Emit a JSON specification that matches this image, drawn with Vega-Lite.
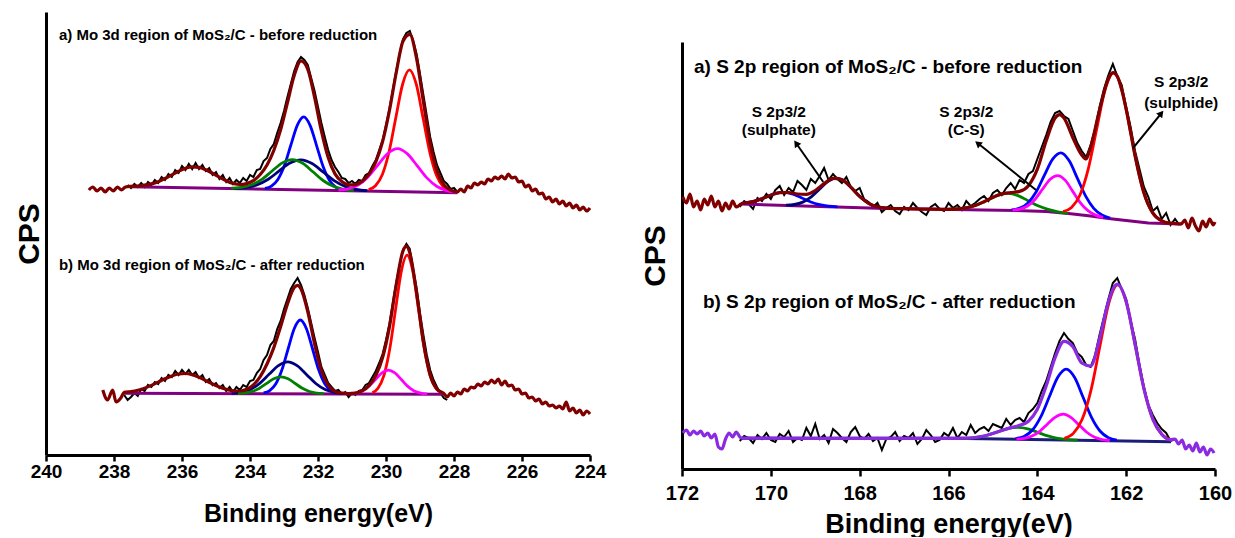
{
"$schema":"https://vega.github.io/schema/vega-lite/v6.json",
"background":"white",
"padding":{"left":14,"top":12,"right":0,"bottom":0},
"spacing":34,
"config":{"view":{"stroke":null},"font":"Liberation Sans",
"axis":{"domainColor":"black","domainWidth":3,"tickColor":"black","tickWidth":2.5,"labelColor":"black","titleColor":"black","labelFont":"Liberation Sans","titleFont":"Liberation Sans","labelFontWeight":"bold","titleFontWeight":"bold","grid":false,"labelFlush":false,"labelOverlap":false}},
"datasets":{
"L_fit":[
{"p":"a","e":238.74,"v":265},{"p":"a","e":238.62,"v":268},{"p":"a","e":238.5,"v":264},{"p":"a","e":238.38,"v":267},{"p":"a","e":238.26,"v":263},{"p":"a","e":238.14,"v":267},{"p":"a","e":238.02,"v":264},{"p":"a","e":237.9,"v":268},{"p":"a","e":237.78,"v":265},{"p":"a","e":237.66,"v":268},
{"p":"a","e":237.5,"v":268.7},{"p":"a","e":237.3,"v":269.0},{"p":"a","e":237.1,"v":269.8},{"p":"a","e":236.9,"v":271.1},{"p":"a","e":236.7,"v":273.3},{"p":"a","e":236.5,"v":276.5},{"p":"a","e":236.3,"v":280.1},{"p":"a","e":236.1,"v":283.7},{"p":"a","e":235.9,"v":286.7},{"p":"a","e":235.7,"v":288.1},{"p":"a","e":235.5,"v":287.6},{"p":"a","e":235.3,"v":285.2},{"p":"a","e":235.1,"v":281.7},{"p":"a","e":234.9,"v":277.8},{"p":"a","e":234.7,"v":274.2},{"p":"a","e":234.5,"v":271.6},{"p":"a","e":234.3,"v":270.5},{"p":"a","e":234.1,"v":271.4},{"p":"a","e":233.9,"v":274.4},{"p":"a","e":233.7,"v":280.5},{"p":"a","e":233.5,"v":290.0},{"p":"a","e":233.3,"v":304.5},{"p":"a","e":233.1,"v":325.2},{"p":"a","e":232.9,"v":352.2},{"p":"a","e":232.7,"v":379.5},{"p":"a","e":232.5,"v":394.1},{"p":"a","e":232.3,"v":385.7},{"p":"a","e":232.1,"v":357.6},{"p":"a","e":231.9,"v":324.0},{"p":"a","e":231.7,"v":297.4},{"p":"a","e":231.5,"v":281.1},{"p":"a","e":231.3,"v":273.4},{"p":"a","e":231.1,"v":270.1},{"p":"a","e":230.9,"v":270.4},{"p":"a","e":230.7,"v":273.7},{"p":"a","e":230.5,"v":280.8},{"p":"a","e":230.3,"v":293.0},{"p":"a","e":230.1,"v":313.3},{"p":"a","e":229.9,"v":344.2},{"p":"a","e":229.7,"v":382.3},{"p":"a","e":229.5,"v":413.7},{"p":"a","e":229.3,"v":420.7},{"p":"a","e":229.1,"v":396.4},{"p":"a","e":228.9,"v":353.2},{"p":"a","e":228.7,"v":311.8},{"p":"a","e":228.5,"v":284.2},{"p":"a","e":228.3,"v":270.4},{"p":"a","e":228.1,"v":264.8},{"p":"a","e":227.9,"v":263.0},
{"p":"a","e":227.8,"v":266},{"p":"a","e":227.7,"v":263},{"p":"a","e":227.6,"v":269},{"p":"a","e":227.5,"v":267},{"p":"a","e":227.4,"v":272},{"p":"a","e":227.3,"v":270},{"p":"a","e":227.2,"v":273},{"p":"a","e":227.1,"v":271},{"p":"a","e":227.0,"v":276},{"p":"a","e":226.9,"v":274},{"p":"a","e":226.8,"v":278},{"p":"a","e":226.7,"v":276},{"p":"a","e":226.6,"v":279},{"p":"a","e":226.5,"v":276},{"p":"a","e":226.4,"v":281},{"p":"a","e":226.3,"v":277},{"p":"a","e":226.2,"v":278},{"p":"a","e":226.1,"v":273},{"p":"a","e":226.0,"v":274},{"p":"a","e":225.9,"v":268},{"p":"a","e":225.8,"v":270},{"p":"a","e":225.7,"v":264},{"p":"a","e":225.6,"v":266},{"p":"a","e":225.5,"v":261},{"p":"a","e":225.4,"v":262},{"p":"a","e":225.3,"v":256},{"p":"a","e":225.2,"v":258},{"p":"a","e":225.1,"v":253},{"p":"a","e":225.0,"v":256},{"p":"a","e":224.9,"v":251},{"p":"a","e":224.8,"v":254},{"p":"a","e":224.7,"v":249},{"p":"a","e":224.6,"v":252},{"p":"a","e":224.5,"v":247},{"p":"a","e":224.4,"v":250},{"p":"a","e":224.3,"v":245},{"p":"a","e":224.2,"v":248},{"p":"a","e":224.1,"v":244},{"p":"a","e":224.0,"v":247},
{"p":"b","e":238.33,"v":65},{"p":"b","e":238.19,"v":55},{"p":"b","e":238.04,"v":65},{"p":"b","e":237.94,"v":53},{"p":"b","e":237.8,"v":57},
{"p":"b","e":237.7,"v":62.6},{"p":"b","e":237.5,"v":63.4},{"p":"b","e":237.3,"v":64.7},{"p":"b","e":237.1,"v":66.8},{"p":"b","e":236.9,"v":69.6},{"p":"b","e":236.7,"v":72.9},{"p":"b","e":236.5,"v":76.3},{"p":"b","e":236.3,"v":79.1},{"p":"b","e":236.1,"v":81.0},{"p":"b","e":235.9,"v":81.5},{"p":"b","e":235.7,"v":80.3},{"p":"b","e":235.5,"v":77.8},{"p":"b","e":235.3,"v":74.4},{"p":"b","e":235.1,"v":71.0},{"p":"b","e":234.9,"v":67.9},{"p":"b","e":234.7,"v":65.7},{"p":"b","e":234.5,"v":64.2},{"p":"b","e":234.3,"v":64.0},{"p":"b","e":234.1,"v":65.7},{"p":"b","e":233.9,"v":70.2},{"p":"b","e":233.7,"v":78.4},{"p":"b","e":233.5,"v":91.0},{"p":"b","e":233.3,"v":107.4},{"p":"b","e":233.1,"v":128.2},{"p":"b","e":232.9,"v":150.8},{"p":"b","e":232.7,"v":167.4},{"p":"b","e":232.6,"v":169.6},{"p":"b","e":232.5,"v":166.1},{"p":"b","e":232.3,"v":143.2},{"p":"b","e":232.1,"v":111.0},{"p":"b","e":231.9,"v":84.5},{"p":"b","e":231.7,"v":69.7},{"p":"b","e":231.5,"v":63.7},{"p":"b","e":231.3,"v":61.8},{"p":"b","e":231.1,"v":61.4},{"p":"b","e":230.9,"v":61.9},{"p":"b","e":230.7,"v":64.2},{"p":"b","e":230.5,"v":69.4},{"p":"b","e":230.3,"v":79.4},{"p":"b","e":230.1,"v":97.4},{"p":"b","e":229.9,"v":127.9},{"p":"b","e":229.7,"v":170.2},{"p":"b","e":229.5,"v":204.1},{"p":"b","e":229.4,"v":208.6},{"p":"b","e":229.3,"v":202.1},{"p":"b","e":229.1,"v":162.0},{"p":"b","e":228.9,"v":112.7},{"p":"b","e":228.7,"v":79.7},{"p":"b","e":228.5,"v":65.7},{"p":"b","e":228.3,"v":61.6},
{"p":"b","e":228.2,"v":58},{"p":"b","e":228.1,"v":62},{"p":"b","e":228.0,"v":59},{"p":"b","e":227.9,"v":63},{"p":"b","e":227.8,"v":61},{"p":"b","e":227.7,"v":66},{"p":"b","e":227.6,"v":64},{"p":"b","e":227.5,"v":68},{"p":"b","e":227.4,"v":67},{"p":"b","e":227.3,"v":71},{"p":"b","e":227.2,"v":69},{"p":"b","e":227.1,"v":73},{"p":"b","e":227.0,"v":71},{"p":"b","e":226.9,"v":75},{"p":"b","e":226.8,"v":72},{"p":"b","e":226.7,"v":76},{"p":"b","e":226.6,"v":70},{"p":"b","e":226.5,"v":74},{"p":"b","e":226.4,"v":69},{"p":"b","e":226.3,"v":70},{"p":"b","e":226.2,"v":65},{"p":"b","e":226.1,"v":66},{"p":"b","e":226.0,"v":61},{"p":"b","e":225.9,"v":62},{"p":"b","e":225.8,"v":57},{"p":"b","e":225.7,"v":58},{"p":"b","e":225.6,"v":54},{"p":"b","e":225.5,"v":56},{"p":"b","e":225.4,"v":51},{"p":"b","e":225.3,"v":53},{"p":"b","e":225.2,"v":49},{"p":"b","e":225.1,"v":50},{"p":"b","e":225.0,"v":47},{"p":"b","e":224.9,"v":49},{"p":"b","e":224.8,"v":46},{"p":"b","e":224.7,"v":53},{"p":"b","e":224.6,"v":44},{"p":"b","e":224.5,"v":47},{"p":"b","e":224.4,"v":42},{"p":"b","e":224.3,"v":45},{"p":"b","e":224.2,"v":40},{"p":"b","e":224.1,"v":44},{"p":"b","e":224.0,"v":41}
],
"L_raw":[
{"p":"a","e":237.6,"v":270},{"p":"a","e":237.5,"v":267},{"p":"a","e":237.4,"v":271},{"p":"a","e":237.3,"v":268},{"p":"a","e":237.2,"v":272},{"p":"a","e":237.1,"v":268},{"p":"a","e":237.0,"v":273},{"p":"a","e":236.9,"v":270},{"p":"a","e":236.8,"v":275},{"p":"a","e":236.7,"v":272},{"p":"a","e":236.6,"v":278},{"p":"a","e":236.5,"v":275},{"p":"a","e":236.4,"v":281},{"p":"a","e":236.3,"v":278},{"p":"a","e":236.2,"v":285},{"p":"a","e":236.1,"v":282},{"p":"a","e":236.0,"v":289},{"p":"a","e":235.9,"v":285},{"p":"a","e":235.8,"v":291},{"p":"a","e":235.7,"v":286},{"p":"a","e":235.6,"v":292},{"p":"a","e":235.5,"v":286},{"p":"a","e":235.4,"v":290},{"p":"a","e":235.3,"v":284},{"p":"a","e":235.2,"v":287},{"p":"a","e":235.1,"v":280},{"p":"a","e":235.0,"v":283},{"p":"a","e":234.9,"v":276},{"p":"a","e":234.8,"v":280},{"p":"a","e":234.7,"v":273},{"p":"a","e":234.6,"v":277},{"p":"a","e":234.5,"v":271},{"p":"a","e":234.4,"v":275},{"p":"a","e":234.3,"v":272},{"p":"a","e":234.2,"v":277},{"p":"a","e":234.1,"v":274},{"p":"a","e":234.0,"v":280},{"p":"a","e":233.9,"v":278},{"p":"a","e":233.8,"v":285},{"p":"a","e":233.7,"v":286},{"p":"a","e":233.6,"v":294},{"p":"a","e":233.5,"v":297},{"p":"a","e":233.4,"v":306},{"p":"a","e":233.3,"v":311},{"p":"a","e":233.2,"v":322},{"p":"a","e":233.1,"v":332},{"p":"a","e":233.0,"v":344},{"p":"a","e":232.9,"v":358},{"p":"a","e":232.8,"v":371},{"p":"a","e":232.7,"v":384},{"p":"a","e":232.6,"v":393},{"p":"a","e":232.5,"v":398},{"p":"a","e":232.4,"v":395},{"p":"a","e":232.3,"v":390},{"p":"a","e":232.2,"v":377},{"p":"a","e":232.1,"v":364},{"p":"a","e":232.0,"v":348},{"p":"a","e":231.9,"v":332},{"p":"a","e":231.8,"v":318},{"p":"a","e":231.7,"v":305},{"p":"a","e":231.6,"v":295},{"p":"a","e":231.5,"v":288},{"p":"a","e":231.4,"v":283},{"p":"a","e":231.3,"v":277},{"p":"a","e":231.2,"v":276},{"p":"a","e":231.1,"v":272},{"p":"a","e":231.0,"v":274},{"p":"a","e":230.9,"v":271},{"p":"a","e":230.8,"v":275},{"p":"a","e":230.7,"v":274},{"p":"a","e":230.6,"v":280},{"p":"a","e":230.5,"v":282},{"p":"a","e":230.4,"v":289},{"p":"a","e":230.3,"v":295},{"p":"a","e":230.2,"v":305},{"p":"a","e":230.1,"v":315},{"p":"a","e":230.0,"v":330},{"p":"a","e":229.9,"v":346},{"p":"a","e":229.8,"v":365},{"p":"a","e":229.7,"v":384},{"p":"a","e":229.6,"v":401},{"p":"a","e":229.5,"v":416},{"p":"a","e":229.4,"v":422},{"p":"a","e":229.3,"v":424},{"p":"a","e":229.2,"v":414},{"p":"a","e":229.1,"v":401},{"p":"a","e":229.0,"v":381},{"p":"a","e":228.9,"v":360},{"p":"a","e":228.8,"v":339},{"p":"a","e":228.7,"v":318},{"p":"a","e":228.6,"v":303},{"p":"a","e":228.5,"v":290},{"p":"a","e":228.4,"v":282},{"p":"a","e":228.3,"v":274},{"p":"a","e":228.2,"v":271},{"p":"a","e":228.1,"v":266},{"p":"a","e":228.0,"v":267},{"p":"a","e":227.9,"v":263},
{"p":"b","e":237.7,"v":60},{"p":"b","e":237.6,"v":55},{"p":"b","e":237.5,"v":58},{"p":"b","e":237.4,"v":62},{"p":"b","e":237.3,"v":59},{"p":"b","e":237.2,"v":66},{"p":"b","e":237.1,"v":64},{"p":"b","e":237.0,"v":70},{"p":"b","e":236.9,"v":68},{"p":"b","e":236.8,"v":73},{"p":"b","e":236.7,"v":71},{"p":"b","e":236.6,"v":77},{"p":"b","e":236.5,"v":74},{"p":"b","e":236.4,"v":80},{"p":"b","e":236.3,"v":78},{"p":"b","e":236.2,"v":84},{"p":"b","e":236.1,"v":80},{"p":"b","e":236.0,"v":85},{"p":"b","e":235.9,"v":81},{"p":"b","e":235.8,"v":85},{"p":"b","e":235.7,"v":80},{"p":"b","e":235.6,"v":83},{"p":"b","e":235.5,"v":77},{"p":"b","e":235.4,"v":80},{"p":"b","e":235.3,"v":73},{"p":"b","e":235.2,"v":76},{"p":"b","e":235.1,"v":70},{"p":"b","e":235.0,"v":72},{"p":"b","e":234.9,"v":67},{"p":"b","e":234.8,"v":70},{"p":"b","e":234.7,"v":64},{"p":"b","e":234.6,"v":68},{"p":"b","e":234.5,"v":63},{"p":"b","e":234.4,"v":68},{"p":"b","e":234.3,"v":65},{"p":"b","e":234.2,"v":70},{"p":"b","e":234.1,"v":68},{"p":"b","e":234.0,"v":74},{"p":"b","e":233.9,"v":75},{"p":"b","e":233.8,"v":82},{"p":"b","e":233.7,"v":86},{"p":"b","e":233.6,"v":95},{"p":"b","e":233.5,"v":100},{"p":"b","e":233.4,"v":110},{"p":"b","e":233.3,"v":114},{"p":"b","e":233.2,"v":126},{"p":"b","e":233.1,"v":134},{"p":"b","e":233.0,"v":146},{"p":"b","e":232.9,"v":156},{"p":"b","e":232.8,"v":166},{"p":"b","e":232.7,"v":172},{"p":"b","e":232.6,"v":177},{"p":"b","e":232.5,"v":170},{"p":"b","e":232.4,"v":160},{"p":"b","e":232.3,"v":147},{"p":"b","e":232.2,"v":132},{"p":"b","e":232.1,"v":117},{"p":"b","e":232.0,"v":103},{"p":"b","e":231.9,"v":88},{"p":"b","e":231.8,"v":80},{"p":"b","e":231.7,"v":72},{"p":"b","e":231.6,"v":68},{"p":"b","e":231.5,"v":64},{"p":"b","e":231.4,"v":65},{"p":"b","e":231.3,"v":61},{"p":"b","e":231.2,"v":63},{"p":"b","e":231.1,"v":58},{"p":"b","e":231.0,"v":62},{"p":"b","e":230.9,"v":60},{"p":"b","e":230.8,"v":64},{"p":"b","e":230.7,"v":65},{"p":"b","e":230.6,"v":70},{"p":"b","e":230.5,"v":72},{"p":"b","e":230.4,"v":78},{"p":"b","e":230.3,"v":84},{"p":"b","e":230.2,"v":92},{"p":"b","e":230.1,"v":101},{"p":"b","e":230.0,"v":115},{"p":"b","e":229.9,"v":131},{"p":"b","e":229.8,"v":152},{"p":"b","e":229.7,"v":172},{"p":"b","e":229.6,"v":190},{"p":"b","e":229.5,"v":205},{"p":"b","e":229.4,"v":211},{"p":"b","e":229.3,"v":206},{"p":"b","e":229.2,"v":186},{"p":"b","e":229.1,"v":167},{"p":"b","e":229.0,"v":142},{"p":"b","e":228.9,"v":120},{"p":"b","e":228.8,"v":100},{"p":"b","e":228.7,"v":85},{"p":"b","e":228.6,"v":75},{"p":"b","e":228.5,"v":68},{"p":"b","e":228.4,"v":62},{"p":"b","e":228.3,"v":57},{"p":"b","e":228.2,"v":55}
],
"L_base":[{"p":"a","e":237.5,"v":268.3},{"p":"a","e":227.9,"v":262.3},{"p":"b","e":237.7,"v":61.7},{"p":"b","e":228.3,"v":60.7}],
"L_comp":[
{"p":"a","s":"A","e":231.28,"v":265.2},{"p":"a","s":"A","e":231.47,"v":267.7},{"p":"a","s":"A","e":231.66,"v":274.5},{"p":"a","s":"A","e":231.85,"v":288.5},{"p":"a","s":"A","e":232.04,"v":309.2},{"p":"a","s":"A","e":232.23,"v":329.4},{"p":"a","s":"A","e":232.42,"v":338.1},{"p":"a","s":"A","e":232.61,"v":329.6},{"p":"a","s":"A","e":232.8,"v":309.7},{"p":"a","s":"A","e":232.99,"v":289.2},{"p":"a","s":"A","e":233.18,"v":275.5},{"p":"a","s":"A","e":233.37,"v":268.9},{"p":"a","s":"A","e":233.56,"v":266.6},
{"p":"a","s":"B","e":230.55,"v":264.3},{"p":"a","s":"B","e":230.875,"v":265.5},{"p":"a","s":"B","e":231.2,"v":268.5},{"p":"a","s":"B","e":231.525,"v":274.3},{"p":"a","s":"B","e":231.85,"v":283.0},{"p":"a","s":"B","e":232.175,"v":291.5},{"p":"a","s":"B","e":232.5,"v":295.2},{"p":"a","s":"B","e":232.825,"v":291.9},{"p":"a","s":"B","e":233.15,"v":283.8},{"p":"a","s":"B","e":233.475,"v":275.5},{"p":"a","s":"B","e":233.8,"v":270.1},{"p":"a","s":"B","e":234.125,"v":267.5},{"p":"a","s":"B","e":234.45,"v":266.7},
{"p":"a","s":"C","e":230.95,"v":264.5},{"p":"a","s":"C","e":231.25,"v":265.7},{"p":"a","s":"C","e":231.55,"v":268.7},{"p":"a","s":"C","e":231.85,"v":274.5},{"p":"a","s":"C","e":232.15,"v":283.2},{"p":"a","s":"C","e":232.45,"v":291.7},{"p":"a","s":"C","e":232.75,"v":295.4},{"p":"a","s":"C","e":233.05,"v":292.1},{"p":"a","s":"C","e":233.35,"v":284.0},{"p":"a","s":"C","e":233.65,"v":275.6},{"p":"a","s":"C","e":233.95,"v":270.2},{"p":"a","s":"C","e":234.25,"v":267.6},{"p":"a","s":"C","e":234.55,"v":266.8},
{"p":"a","s":"D","e":228.11,"v":263.8},{"p":"a","s":"D","e":228.31,"v":268.0},{"p":"a","s":"D","e":228.51,"v":279.2},{"p":"a","s":"D","e":228.71,"v":302.4},{"p":"a","s":"D","e":228.91,"v":336.9},{"p":"a","s":"D","e":229.11,"v":370.8},{"p":"a","s":"D","e":229.31,"v":385.2},{"p":"a","s":"D","e":229.51,"v":371.0},{"p":"a","s":"D","e":229.71,"v":337.5},{"p":"a","s":"D","e":229.91,"v":303.2},{"p":"a","s":"D","e":230.11,"v":280.2},{"p":"a","s":"D","e":230.31,"v":269.2},{"p":"a","s":"D","e":230.51,"v":265.4},
{"p":"a","s":"E","e":227.92,"v":262.8},{"p":"a","s":"E","e":228.21,"v":264.4},{"p":"a","s":"E","e":228.5,"v":268.5},{"p":"a","s":"E","e":228.79,"v":276.9},{"p":"a","s":"E","e":229.08,"v":289.1},{"p":"a","s":"E","e":229.37,"v":301.1},{"p":"a","s":"E","e":229.66,"v":306.4},{"p":"a","s":"E","e":229.95,"v":301.5},{"p":"a","s":"E","e":230.24,"v":289.9},{"p":"a","s":"E","e":230.53,"v":278.0},{"p":"a","s":"E","e":230.82,"v":269.9},{"p":"a","s":"E","e":231.11,"v":266.2},{"p":"a","s":"E","e":231.4,"v":265.0},
{"p":"b","s":"A","e":231.44,"v":61.9},{"p":"b","s":"A","e":231.62,"v":64.3},{"p":"b","s":"A","e":231.8,"v":71.1},{"p":"b","s":"A","e":231.98,"v":85.1},{"p":"b","s":"A","e":232.16,"v":106.0},{"p":"b","s":"A","e":232.34,"v":126.3},{"p":"b","s":"A","e":232.52,"v":135.0},{"p":"b","s":"A","e":232.7,"v":126.3},{"p":"b","s":"A","e":232.88,"v":106.0},{"p":"b","s":"A","e":233.06,"v":85.2},{"p":"b","s":"A","e":233.24,"v":71.2},{"p":"b","s":"A","e":233.42,"v":64.4},{"p":"b","s":"A","e":233.6,"v":62.1},
{"p":"b","s":"B","e":231.24,"v":61.4},{"p":"b","s":"B","e":231.515,"v":62.5},{"p":"b","s":"B","e":231.79,"v":65.4},{"p":"b","s":"B","e":232.065,"v":71.5},{"p":"b","s":"B","e":232.34,"v":80.6},{"p":"b","s":"B","e":232.615,"v":89.4},{"p":"b","s":"B","e":232.89,"v":93.2},{"p":"b","s":"B","e":233.165,"v":89.4},{"p":"b","s":"B","e":233.44,"v":80.7},{"p":"b","s":"B","e":233.715,"v":71.7},{"p":"b","s":"B","e":233.99,"v":65.6},{"p":"b","s":"B","e":234.265,"v":62.7},{"p":"b","s":"B","e":234.54,"v":61.7},
{"p":"b","s":"C","e":231.83,"v":61.3},{"p":"b","s":"C","e":232.04,"v":61.9},{"p":"b","s":"C","e":232.25,"v":63.5},{"p":"b","s":"C","e":232.46,"v":66.7},{"p":"b","s":"C","e":232.67,"v":71.5},{"p":"b","s":"C","e":232.88,"v":76.2},{"p":"b","s":"C","e":233.09,"v":78.2},{"p":"b","s":"C","e":233.3,"v":76.2},{"p":"b","s":"C","e":233.51,"v":71.6},{"p":"b","s":"C","e":233.72,"v":66.8},{"p":"b","s":"C","e":233.93,"v":63.6},{"p":"b","s":"C","e":234.14,"v":62.1},{"p":"b","s":"C","e":234.35,"v":61.5},
{"p":"b","s":"D","e":228.36,"v":62.2},{"p":"b","s":"D","e":228.53,"v":66.8},{"p":"b","s":"D","e":228.7,"v":79.5},{"p":"b","s":"D","e":228.87,"v":105.9},{"p":"b","s":"D","e":229.04,"v":145.1},{"p":"b","s":"D","e":229.21,"v":183.5},{"p":"b","s":"D","e":229.38,"v":199.8},{"p":"b","s":"D","e":229.55,"v":183.6},{"p":"b","s":"D","e":229.72,"v":145.1},{"p":"b","s":"D","e":229.89,"v":105.9},{"p":"b","s":"D","e":230.06,"v":79.6},{"p":"b","s":"D","e":230.23,"v":67.0},{"p":"b","s":"D","e":230.4,"v":62.3},
{"p":"b","s":"E","e":228.79,"v":61.1},{"p":"b","s":"E","e":228.98,"v":61.9},{"p":"b","s":"E","e":229.17,"v":64.1},{"p":"b","s":"E","e":229.36,"v":68.6},{"p":"b","s":"E","e":229.55,"v":75.5},{"p":"b","s":"E","e":229.74,"v":82.1},{"p":"b","s":"E","e":229.93,"v":84.9},{"p":"b","s":"E","e":230.12,"v":82.1},{"p":"b","s":"E","e":230.31,"v":75.5},{"p":"b","s":"E","e":230.5,"v":68.8},{"p":"b","s":"E","e":230.69,"v":64.2},{"p":"b","s":"E","e":230.88,"v":62.1},{"p":"b","s":"E","e":231.07,"v":61.3}
],
"L_title":[{"e":239.62,"v":420,"t":"a) Mo 3d region of MoS₂/C - before reduction"},{"e":239.62,"v":190,"t":"b) Mo 3d region of MoS₂/C - after reduction"}],
"R_fit":[
{"p":"a","e":171.98,"v":272},{"p":"a","e":171.9,"v":266},{"p":"a","e":171.82,"v":275},{"p":"a","e":171.74,"v":262},{"p":"a","e":171.66,"v":268},{"p":"a","e":171.58,"v":259},{"p":"a","e":171.5,"v":270},{"p":"a","e":171.42,"v":264},{"p":"a","e":171.34,"v":273},{"p":"a","e":171.26,"v":262},{"p":"a","e":171.18,"v":268},{"p":"a","e":171.1,"v":258},{"p":"a","e":171.02,"v":266},{"p":"a","e":170.94,"v":260},{"p":"a","e":170.86,"v":268},{"p":"a","e":170.78,"v":262},{"p":"a","e":170.67,"v":265},
{"p":"a","e":170.6,"v":265.9},{"p":"a","e":170.4,"v":267.4},{"p":"a","e":170.2,"v":270.3},{"p":"a","e":170.0,"v":273.8},{"p":"a","e":169.8,"v":276.4},{"p":"a","e":169.6,"v":276.5},{"p":"a","e":169.4,"v":275.0},{"p":"a","e":169.2,"v":274.7},{"p":"a","e":169.0,"v":278.5},{"p":"a","e":168.8,"v":285.4},{"p":"a","e":168.6,"v":290.7},{"p":"a","e":168.4,"v":289.4},{"p":"a","e":168.2,"v":281.8},{"p":"a","e":168.0,"v":272.6},{"p":"a","e":167.8,"v":265.7},{"p":"a","e":167.6,"v":262.2},{"p":"a","e":167.4,"v":260.9},{"p":"a","e":167.0,"v":260.3},{"p":"a","e":166.5,"v":259.9},{"p":"a","e":166.0,"v":259.6},{"p":"a","e":165.8,"v":260.1},{"p":"a","e":165.6,"v":261.2},{"p":"a","e":165.4,"v":263.5},{"p":"a","e":165.2,"v":267.3},{"p":"a","e":165.0,"v":271.7},{"p":"a","e":164.8,"v":275.1},{"p":"a","e":164.6,"v":276.4},{"p":"a","e":164.4,"v":277.6},{"p":"a","e":164.2,"v":283.3},{"p":"a","e":164.0,"v":299.8},{"p":"a","e":163.8,"v":328.3},{"p":"a","e":163.6,"v":351.0},{"p":"a","e":163.5,"v":354.3},{"p":"a","e":163.4,"v":351.1},{"p":"a","e":163.2,"v":331.3},{"p":"a","e":163.0,"v":314},{"p":"a","e":162.9,"v":310},{"p":"a","e":162.8,"v":322},{"p":"a","e":162.6,"v":358.8},{"p":"a","e":162.4,"v":390.3},{"p":"a","e":162.3,"v":396.4},{"p":"a","e":162.2,"v":392.7},{"p":"a","e":162.0,"v":359.9},{"p":"a","e":161.8,"v":313.2},{"p":"a","e":161.6,"v":276.0},{"p":"a","e":161.4,"v":255.9},{"p":"a","e":161.2,"v":248.2},{"p":"a","e":161.0,"v":245.8},{"p":"a","e":160.76,"v":245},
{"p":"a","e":160.68,"v":249},{"p":"a","e":160.6,"v":241},{"p":"a","e":160.52,"v":251},{"p":"a","e":160.44,"v":243},{"p":"a","e":160.36,"v":238},{"p":"a","e":160.28,"v":248},{"p":"a","e":160.2,"v":242},{"p":"a","e":160.12,"v":250},{"p":"a","e":160.04,"v":244},{"p":"a","e":160.0,"v":247},
{"p":"b","e":171.98,"v":36},{"p":"b","e":171.9,"v":39},{"p":"b","e":171.82,"v":34},{"p":"b","e":171.74,"v":38},{"p":"b","e":171.66,"v":35},{"p":"b","e":171.58,"v":38},{"p":"b","e":171.5,"v":33},{"p":"b","e":171.42,"v":36},{"p":"b","e":171.34,"v":31},{"p":"b","e":171.26,"v":35},{"p":"b","e":171.18,"v":22},{"p":"b","e":171.1,"v":20},{"p":"b","e":171.02,"v":30},{"p":"b","e":170.94,"v":36},{"p":"b","e":170.86,"v":32},{"p":"b","e":170.78,"v":37},{"p":"b","e":170.67,"v":31},
{"p":"b","e":169.0,"v":30.7},{"p":"b","e":167.5,"v":30.7},{"p":"b","e":166.0,"v":30.7},{"p":"b","e":165.6,"v":30.8},{"p":"b","e":165.4,"v":31.5},{"p":"b","e":165.2,"v":33.0},{"p":"b","e":165.0,"v":35.5},{"p":"b","e":164.8,"v":38.6},{"p":"b","e":164.6,"v":41.4},{"p":"b","e":164.4,"v":43.7},{"p":"b","e":164.2,"v":47.8},{"p":"b","e":164.0,"v":59.7},{"p":"b","e":163.8,"v":83.2},{"p":"b","e":163.6,"v":111.4},{"p":"b","e":163.4,"v":127.7},{"p":"b","e":163.2,"v":122.4},{"p":"b","e":163.0,"v":106},{"p":"b","e":162.8,"v":103},{"p":"b","e":162.6,"v":130},{"p":"b","e":162.4,"v":167.6},{"p":"b","e":162.2,"v":184.8},{"p":"b","e":162.0,"v":167.5},{"p":"b","e":161.8,"v":124.9},{"p":"b","e":161.6,"v":80.3},{"p":"b","e":161.4,"v":49.8},{"p":"b","e":161.2,"v":34.7},{"p":"b","e":161.0,"v":29.2},
{"p":"b","e":160.9,"v":30},{"p":"b","e":160.82,"v":25},{"p":"b","e":160.74,"v":29},{"p":"b","e":160.66,"v":20},{"p":"b","e":160.58,"v":24},{"p":"b","e":160.5,"v":18},{"p":"b","e":160.42,"v":26},{"p":"b","e":160.34,"v":17},{"p":"b","e":160.26,"v":22},{"p":"b","e":160.18,"v":14},{"p":"b","e":160.1,"v":20},{"p":"b","e":160.02,"v":16}
],
"R_raw":[
{"p":"a","e":170.7,"v":262},{"p":"a","e":170.6,"v":268},{"p":"a","e":170.5,"v":265},{"p":"a","e":170.4,"v":260},{"p":"a","e":170.3,"v":271},{"p":"a","e":170.2,"v":268},{"p":"a","e":170.1,"v":275},{"p":"a","e":170.0,"v":270},{"p":"a","e":169.9,"v":279},{"p":"a","e":169.8,"v":283},{"p":"a","e":169.7,"v":274},{"p":"a","e":169.6,"v":281},{"p":"a","e":169.5,"v":277},{"p":"a","e":169.4,"v":288},{"p":"a","e":169.3,"v":284},{"p":"a","e":169.2,"v":279},{"p":"a","e":169.1,"v":290},{"p":"a","e":169.0,"v":286},{"p":"a","e":168.9,"v":293},{"p":"a","e":168.8,"v":301},{"p":"a","e":168.7,"v":289},{"p":"a","e":168.6,"v":295},{"p":"a","e":168.5,"v":290},{"p":"a","e":168.4,"v":286},{"p":"a","e":168.3,"v":292},{"p":"a","e":168.2,"v":282},{"p":"a","e":168.1,"v":278},{"p":"a","e":168.0,"v":281},{"p":"a","e":167.9,"v":270},{"p":"a","e":167.8,"v":267},{"p":"a","e":167.7,"v":262},{"p":"a","e":167.6,"v":266},{"p":"a","e":167.5,"v":257},{"p":"a","e":167.4,"v":261},{"p":"a","e":167.3,"v":264},{"p":"a","e":167.2,"v":258},{"p":"a","e":167.1,"v":255},{"p":"a","e":167.0,"v":262},{"p":"a","e":166.9,"v":259},{"p":"a","e":166.8,"v":266},{"p":"a","e":166.7,"v":261},{"p":"a","e":166.6,"v":257},{"p":"a","e":166.5,"v":254},{"p":"a","e":166.4,"v":262},{"p":"a","e":166.3,"v":265},{"p":"a","e":166.2,"v":260},{"p":"a","e":166.1,"v":258},{"p":"a","e":166.0,"v":266},{"p":"a","e":165.9,"v":261},{"p":"a","e":165.8,"v":264},{"p":"a","e":165.7,"v":259},{"p":"a","e":165.6,"v":268},{"p":"a","e":165.5,"v":263},{"p":"a","e":165.4,"v":266},{"p":"a","e":165.3,"v":270},{"p":"a","e":165.2,"v":273},{"p":"a","e":165.1,"v":268},{"p":"a","e":165.0,"v":276},{"p":"a","e":164.9,"v":279},{"p":"a","e":164.8,"v":274},{"p":"a","e":164.7,"v":281},{"p":"a","e":164.6,"v":286},{"p":"a","e":164.5,"v":280},{"p":"a","e":164.4,"v":289},{"p":"a","e":164.3,"v":286},{"p":"a","e":164.2,"v":295},{"p":"a","e":164.1,"v":298},{"p":"a","e":164.0,"v":310},{"p":"a","e":163.9,"v":322},{"p":"a","e":163.8,"v":334},{"p":"a","e":163.7,"v":347},{"p":"a","e":163.6,"v":356},{"p":"a","e":163.5,"v":358},{"p":"a","e":163.4,"v":353},{"p":"a","e":163.3,"v":350},{"p":"a","e":163.2,"v":338},{"p":"a","e":163.1,"v":326},{"p":"a","e":163.0,"v":318},{"p":"a","e":162.9,"v":312},{"p":"a","e":162.8,"v":324},{"p":"a","e":162.7,"v":340},{"p":"a","e":162.6,"v":362},{"p":"a","e":162.5,"v":380},{"p":"a","e":162.4,"v":394},{"p":"a","e":162.3,"v":405},{"p":"a","e":162.2,"v":393},{"p":"a","e":162.1,"v":384},{"p":"a","e":162.0,"v":362},{"p":"a","e":161.9,"v":342},{"p":"a","e":161.8,"v":318},{"p":"a","e":161.7,"v":300},{"p":"a","e":161.6,"v":282},{"p":"a","e":161.5,"v":272},{"p":"a","e":161.4,"v":258},{"p":"a","e":161.3,"v":262},{"p":"a","e":161.2,"v":250},{"p":"a","e":161.1,"v":256},{"p":"a","e":161.0,"v":244},{"p":"a","e":160.9,"v":250},{"p":"a","e":160.8,"v":244},
{"p":"b","e":170.7,"v":28},{"p":"b","e":170.6,"v":33},{"p":"b","e":170.5,"v":31},{"p":"b","e":170.4,"v":26},{"p":"b","e":170.3,"v":34},{"p":"b","e":170.2,"v":30},{"p":"b","e":170.1,"v":36},{"p":"b","e":170.0,"v":29},{"p":"b","e":169.9,"v":27},{"p":"b","e":169.8,"v":35},{"p":"b","e":169.7,"v":32},{"p":"b","e":169.6,"v":38},{"p":"b","e":169.5,"v":27},{"p":"b","e":169.4,"v":31},{"p":"b","e":169.3,"v":29},{"p":"b","e":169.2,"v":41},{"p":"b","e":169.1,"v":33},{"p":"b","e":169.0,"v":45},{"p":"b","e":168.9,"v":30},{"p":"b","e":168.8,"v":34},{"p":"b","e":168.7,"v":26},{"p":"b","e":168.6,"v":40},{"p":"b","e":168.5,"v":36},{"p":"b","e":168.4,"v":31},{"p":"b","e":168.3,"v":27},{"p":"b","e":168.2,"v":37},{"p":"b","e":168.1,"v":42},{"p":"b","e":168.0,"v":33},{"p":"b","e":167.9,"v":30},{"p":"b","e":167.8,"v":35},{"p":"b","e":167.7,"v":28},{"p":"b","e":167.6,"v":31},{"p":"b","e":167.5,"v":19},{"p":"b","e":167.4,"v":30},{"p":"b","e":167.3,"v":32},{"p":"b","e":167.2,"v":37},{"p":"b","e":167.1,"v":28},{"p":"b","e":167.0,"v":33},{"p":"b","e":166.9,"v":31},{"p":"b","e":166.8,"v":36},{"p":"b","e":166.7,"v":25},{"p":"b","e":166.6,"v":30},{"p":"b","e":166.5,"v":39},{"p":"b","e":166.4,"v":34},{"p":"b","e":166.3,"v":27},{"p":"b","e":166.2,"v":29},{"p":"b","e":166.1,"v":36},{"p":"b","e":166.0,"v":33},{"p":"b","e":165.9,"v":41},{"p":"b","e":165.8,"v":31},{"p":"b","e":165.7,"v":37},{"p":"b","e":165.6,"v":34},{"p":"b","e":165.5,"v":44},{"p":"b","e":165.4,"v":36},{"p":"b","e":165.3,"v":40},{"p":"b","e":165.2,"v":42},{"p":"b","e":165.1,"v":38},{"p":"b","e":165.0,"v":45},{"p":"b","e":164.9,"v":43},{"p":"b","e":164.8,"v":41},{"p":"b","e":164.7,"v":50},{"p":"b","e":164.6,"v":44},{"p":"b","e":164.5,"v":49},{"p":"b","e":164.4,"v":51},{"p":"b","e":164.3,"v":47},{"p":"b","e":164.2,"v":56},{"p":"b","e":164.1,"v":60},{"p":"b","e":164.0,"v":66},{"p":"b","e":163.9,"v":78},{"p":"b","e":163.8,"v":88},{"p":"b","e":163.7,"v":102},{"p":"b","e":163.6,"v":116},{"p":"b","e":163.5,"v":128},{"p":"b","e":163.4,"v":136},{"p":"b","e":163.3,"v":130},{"p":"b","e":163.2,"v":126},{"p":"b","e":163.1,"v":116},{"p":"b","e":163.0,"v":112},{"p":"b","e":162.9,"v":104},{"p":"b","e":162.8,"v":102},{"p":"b","e":162.7,"v":114},{"p":"b","e":162.6,"v":134},{"p":"b","e":162.5,"v":152},{"p":"b","e":162.4,"v":170},{"p":"b","e":162.3,"v":186},{"p":"b","e":162.2,"v":191},{"p":"b","e":162.1,"v":180},{"p":"b","e":162.0,"v":170},{"p":"b","e":161.9,"v":148},{"p":"b","e":161.8,"v":130},{"p":"b","e":161.7,"v":104},{"p":"b","e":161.6,"v":82},{"p":"b","e":161.5,"v":64},{"p":"b","e":161.4,"v":54},{"p":"b","e":161.3,"v":46},{"p":"b","e":161.2,"v":40},{"p":"b","e":161.1,"v":36},{"p":"b","e":161.0,"v":28},{"p":"b","e":160.9,"v":30}
],
"R_base":[
{"p":"a","e":170.67,"v":265},{"p":"a","e":167.6,"v":260.7},{"p":"a","e":165.9,"v":259.5},{"p":"a","e":164.5,"v":258.5},{"p":"a","e":163.8,"v":257.5},{"p":"a","e":163.3,"v":255.5},{"p":"a","e":162.8,"v":253},{"p":"a","e":162.4,"v":250.5},{"p":"a","e":161.9,"v":248},{"p":"a","e":161.5,"v":246},{"p":"a","e":160.76,"v":245},
{"p":"b","e":170.67,"v":30.7},{"p":"b","e":166.0,"v":30.7},{"p":"b","e":160.99,"v":27.3}
],
"R_comp":[
{"p":"a","s":"F","e":168.5,"v":262.1},{"p":"a","s":"F","e":168.7,"v":262.8},{"p":"a","s":"F","e":168.9,"v":264.3},{"p":"a","s":"F","e":169.1,"v":267.0},{"p":"a","s":"F","e":169.3,"v":271.0},{"p":"a","s":"F","e":169.5,"v":274.8},{"p":"a","s":"F","e":169.7,"v":276.6},{"p":"a","s":"F","e":169.9,"v":275.4},{"p":"a","s":"F","e":170.1,"v":272.1},{"p":"a","s":"F","e":170.3,"v":268.7},{"p":"a","s":"F","e":170.5,"v":266.6},{"p":"a","s":"F","e":170.67,"v":265.6},
{"p":"a","s":"G","e":167.38,"v":260.9},{"p":"a","s":"G","e":167.57,"v":262.0},{"p":"a","s":"G","e":167.76,"v":264.8},{"p":"a","s":"G","e":167.95,"v":270.5},{"p":"a","s":"G","e":168.14,"v":279.0},{"p":"a","s":"G","e":168.33,"v":287.2},{"p":"a","s":"G","e":168.52,"v":290.9},{"p":"a","s":"G","e":168.71,"v":287.8},{"p":"a","s":"G","e":168.9,"v":280.0},{"p":"a","s":"G","e":169.09,"v":272.1},{"p":"a","s":"G","e":169.28,"v":266.9},{"p":"a","s":"G","e":169.47,"v":264.5},{"p":"a","s":"G","e":169.66,"v":263.8},
{"p":"a","s":"C","e":163.31,"v":255.7},{"p":"a","s":"C","e":163.535,"v":257.1},{"p":"a","s":"C","e":163.76,"v":259.6},{"p":"a","s":"C","e":163.985,"v":263.2},{"p":"a","s":"C","e":164.21,"v":268.3},{"p":"a","s":"C","e":164.435,"v":273.4},{"p":"a","s":"C","e":164.66,"v":275.6},{"p":"a","s":"C","e":164.885,"v":273.8},{"p":"a","s":"C","e":165.11,"v":269.2},{"p":"a","s":"C","e":165.335,"v":264.6},{"p":"a","s":"C","e":165.56,"v":261.6},{"p":"a","s":"C","e":165.785,"v":260.2},{"p":"a","s":"C","e":166.01,"v":259.8},
{"p":"a","s":"A","e":162.36,"v":251.0},{"p":"a","s":"A","e":162.545,"v":254.0},{"p":"a","s":"A","e":162.73,"v":260.7},{"p":"a","s":"A","e":162.915,"v":273.1},{"p":"a","s":"A","e":163.1,"v":290.9},{"p":"a","s":"A","e":163.285,"v":308.4},{"p":"a","s":"A","e":163.47,"v":316.2},{"p":"a","s":"A","e":163.655,"v":309.9},{"p":"a","s":"A","e":163.84,"v":293.9},{"p":"a","s":"A","e":164.025,"v":277.2},{"p":"a","s":"A","e":164.21,"v":266.1},{"p":"a","s":"A","e":164.395,"v":260.9},{"p":"a","s":"A","e":164.58,"v":259.2},
{"p":"a","s":"E","e":162.52,"v":251.6},{"p":"a","s":"E","e":162.69,"v":253.9},{"p":"a","s":"E","e":162.86,"v":258.3},{"p":"a","s":"E","e":163.03,"v":266.2},{"p":"a","s":"E","e":163.2,"v":277.4},{"p":"a","s":"E","e":163.37,"v":288.6},{"p":"a","s":"E","e":163.54,"v":293.4},{"p":"a","s":"E","e":163.71,"v":289.8},{"p":"a","s":"E","e":163.88,"v":280.0},{"p":"a","s":"E","e":164.05,"v":269.8},{"p":"a","s":"E","e":164.22,"v":263.0},{"p":"a","s":"E","e":164.39,"v":259.9},{"p":"a","s":"E","e":164.56,"v":258.9},
{"p":"a","s":"D","e":161.14,"v":247.1},{"p":"a","s":"D","e":161.33,"v":252.2},{"p":"a","s":"D","e":161.52,"v":265.9},{"p":"a","s":"D","e":161.71,"v":294.5},{"p":"a","s":"D","e":161.9,"v":336.5},{"p":"a","s":"D","e":162.09,"v":377.9},{"p":"a","s":"D","e":162.28,"v":396.2},{"p":"a","s":"D","e":162.47,"v":380.1},{"p":"a","s":"D","e":162.66,"v":340.8},{"p":"a","s":"D","e":162.85,"v":300.7},{"p":"a","s":"D","e":163.04,"v":274.0},{"p":"a","s":"D","e":163.23,"v":261.6},{"p":"a","s":"D","e":163.42,"v":257.5},
{"p":"b","s":"C","e":163.09,"v":28.8},{"p":"b","s":"C","e":163.315,"v":29.4},{"p":"b","s":"C","e":163.54,"v":30.6},{"p":"b","s":"C","e":163.765,"v":33.1},{"p":"b","s":"C","e":163.99,"v":36.6},{"p":"b","s":"C","e":164.215,"v":40.1},{"p":"b","s":"C","e":164.44,"v":41.6},{"p":"b","s":"C","e":164.665,"v":40.4},{"p":"b","s":"C","e":164.89,"v":37.2},{"p":"b","s":"C","e":165.115,"v":34.0},{"p":"b","s":"C","e":165.34,"v":31.9},{"p":"b","s":"C","e":165.565,"v":30.9},{"p":"b","s":"C","e":165.79,"v":30.7},
{"p":"b","s":"A","e":162.21,"v":28.9},{"p":"b","s":"A","e":162.4,"v":31.3},{"p":"b","s":"A","e":162.59,"v":38.0},{"p":"b","s":"A","e":162.78,"v":51.6},{"p":"b","s":"A","e":162.97,"v":71.7},{"p":"b","s":"A","e":163.16,"v":91.5},{"p":"b","s":"A","e":163.35,"v":99.9},{"p":"b","s":"A","e":163.54,"v":91.7},{"p":"b","s":"A","e":163.73,"v":72.2},{"p":"b","s":"A","e":163.92,"v":52.4},{"p":"b","s":"A","e":164.11,"v":39.0},{"p":"b","s":"A","e":164.3,"v":32.6},{"p":"b","s":"A","e":164.49,"v":30.5},
{"p":"b","s":"E","e":162.37,"v":28.5},{"p":"b","s":"E","e":162.545,"v":29.4},{"p":"b","s":"E","e":162.72,"v":32.0},{"p":"b","s":"E","e":162.895,"v":37.0},{"p":"b","s":"E","e":163.07,"v":44.5},{"p":"b","s":"E","e":163.245,"v":51.7},{"p":"b","s":"E","e":163.42,"v":54.9},{"p":"b","s":"E","e":163.595,"v":51.9},{"p":"b","s":"E","e":163.77,"v":45.0},{"p":"b","s":"E","e":163.945,"v":37.7},{"p":"b","s":"E","e":164.12,"v":32.9},{"p":"b","s":"E","e":164.295,"v":30.6},{"p":"b","s":"E","e":164.47,"v":29.9},
{"p":"b","s":"D","e":160.99,"v":29.0},{"p":"b","s":"D","e":161.19,"v":34.2},{"p":"b","s":"D","e":161.39,"v":48.7},{"p":"b","s":"D","e":161.59,"v":78.4},{"p":"b","s":"D","e":161.79,"v":122.4},{"p":"b","s":"D","e":161.99,"v":165.7},{"p":"b","s":"D","e":162.19,"v":184.1},{"p":"b","s":"D","e":162.39,"v":165.9},{"p":"b","s":"D","e":162.59,"v":123.0},{"p":"b","s":"D","e":162.79,"v":79.2},{"p":"b","s":"D","e":162.99,"v":49.7},{"p":"b","s":"D","e":163.19,"v":35.6},{"p":"b","s":"D","e":163.39,"v":30.6}
],
"R_title":[{"e":171.73,"v":402,"t":"a) S 2p region of MoS₂/C - before reduction"},{"e":171.53,"v":167,"t":"b) S 2p region of MoS₂/C - after reduction"}],
"R_note":[{"e":169.82,"v":357,"t":"S 2p3/2"},{"e":169.82,"v":339,"t":"(sulphate)"},{"e":165.6,"v":357,"t":"S 2p3/2"},{"e":165.6,"v":339,"t":"(C-S)"},{"e":160.76,"v":387,"t":"S 2p3/2"},{"e":160.76,"v":366,"t":"(sulphide)"}],
"R_arrow":[{"k":1,"e":168.82,"v":287,"e2":169.43,"v2":325.7},{"k":2,"e":164.03,"v":279,"e2":165.34,"v2":325.7},{"k":3,"e":161.85,"v":320.7,"e2":161.21,"v2":355.7}],
"empty":[]
},
"hconcat":[
{
"width":544,"height":443,
"encoding":{
"x":{"field":"e","type":"quantitative","scale":{"domain":[224,240],"reverse":true,"nice":false,"zero":false},"axis":{"title":"Binding energy(eV)","values":[240,238,236,234,232,230,228,226,224],"format":"d","tickSize":6,"labelFontSize":19,"labelPadding":1,"titleFontSize":25,"titlePadding":20}},
"y":{"field":"v","type":"quantitative","scale":{"domain":[0,443],"nice":false,"zero":false},"axis":{"title":"CPS","ticks":false,"labels":false,"titleFontSize":30,"titlePadding":2}}
},
"layer":[
{"data":{"name":"L_raw"},"mark":{"type":"line","color":"#000000","strokeWidth":2},"encoding":{"detail":{"field":"p"}}},
{"data":{"name":"L_base"},"mark":{"type":"line","color":"#800080","strokeWidth":3},"encoding":{"detail":{"field":"p"}}},
{"data":{"name":"L_comp"},"mark":{"type":"line","strokeWidth":2.8,"interpolate":"monotone"},"encoding":{"color":{"field":"s","type":"nominal","scale":{"domain":["A","B","C","D","E"],"range":["#0000ff","#00007f","#008000","#ff0000","#ff00ff"]},"legend":null},"detail":{"field":"p"}}},
{"data":{"name":"L_fit"},"mark":{"type":"line","color":"#800000","strokeWidth":3.2,"interpolate":"monotone"},"encoding":{"detail":{"field":"p"}}},
{"data":{"name":"L_title"},"mark":{"type":"text","align":"left","baseline":"middle","fontSize":15,"fontWeight":"bold","font":"Liberation Sans","color":"#000000"},"encoding":{"text":{"field":"t"}}}
]
},
{
"spacing":0,
"vconcat":[
{"width":533,"height":30,"data":{"name":"empty"},"mark":{"type":"point"}},
{
"width":533,"height":427,
"encoding":{
"x":{"field":"e","type":"quantitative","scale":{"domain":[160,172],"reverse":true,"nice":false,"zero":false},"axis":{"title":"Binding energy(eV)","values":[172,170,168,166,164,162,160],"format":"d","tickSize":7,"labelFontSize":20,"labelPadding":7,"titleFontSize":27,"titlePadding":8}},
"y":{"field":"v","type":"quantitative","scale":{"domain":[0,427],"nice":false,"zero":false},"axis":{"title":"CPS","ticks":false,"labels":false,"titleFontSize":30,"titlePadding":12}}
},
"layer":[
{"data":{"name":"R_raw"},"mark":{"type":"line","color":"#000000","strokeWidth":2},"encoding":{"detail":{"field":"p"}}},
{"data":{"name":"R_base"},"transform":[{"filter":{"field":"p","equal":"a"}}],"mark":{"type":"line","color":"#800080","strokeWidth":3},"encoding":{}},
{"data":{"name":"R_base"},"transform":[{"filter":{"field":"p","equal":"b"}}],"mark":{"type":"line","color":"#1c1c7a","strokeWidth":3},"encoding":{}},
{"data":{"name":"R_comp"},"mark":{"type":"line","strokeWidth":2.8,"interpolate":"monotone"},"encoding":{"color":{"field":"s","type":"nominal","scale":{"domain":["A","C","D","E","F","G"],"range":["#0000ff","#008000","#ff0000","#ff00ff","#9a5cf5","#2a2aa0"]},"legend":null},"detail":{"field":"p"}}},
{"data":{"name":"R_fit"},"transform":[{"filter":{"field":"p","equal":"a"}}],"mark":{"type":"line","color":"#800000","strokeWidth":3.2,"interpolate":"monotone"},"encoding":{}},
{"data":{"name":"R_fit"},"transform":[{"filter":{"field":"p","equal":"b"}}],"mark":{"type":"line","color":"#8a2be2","strokeWidth":3.2,"interpolate":"monotone"},"encoding":{}},
{"data":{"name":"R_title"},"mark":{"type":"text","align":"left","baseline":"middle","fontSize":19,"fontWeight":"bold","font":"Liberation Sans","color":"#000000"},"encoding":{"text":{"field":"t"}}},
{"data":{"name":"R_note"},"mark":{"type":"text","align":"center","baseline":"middle","fontSize":15.5,"fontWeight":"bold","font":"Liberation Sans","color":"#000000"},"encoding":{"text":{"field":"t"}}},
{"data":{"name":"R_arrow"},"mark":{"type":"rule","color":"#000000","strokeWidth":2},"encoding":{"x2":{"field":"e2"},"y2":{"field":"v2"}}},
{"data":{"name":"R_arrow"},"transform":[{"filter":{"field":"k","equal":1}}],"mark":{"type":"point","shape":"triangle-up","filled":true,"color":"#000000","opacity":1,"size":60,"angle":325},"encoding":{"x":{"field":"e2","type":"quantitative"},"y":{"field":"v2","type":"quantitative"}}},
{"data":{"name":"R_arrow"},"transform":[{"filter":{"field":"k","equal":2}}],"mark":{"type":"point","shape":"triangle-up","filled":true,"color":"#000000","opacity":1,"size":60,"angle":309},"encoding":{"x":{"field":"e2","type":"quantitative"},"y":{"field":"v2","type":"quantitative"}}},
{"data":{"name":"R_arrow"},"transform":[{"filter":{"field":"k","equal":3}}],"mark":{"type":"point","shape":"triangle-up","filled":true,"color":"#000000","opacity":1,"size":60,"angle":39},"encoding":{"x":{"field":"e2","type":"quantitative"},"y":{"field":"v2","type":"quantitative"}}}
]
}
]
}
]
}
